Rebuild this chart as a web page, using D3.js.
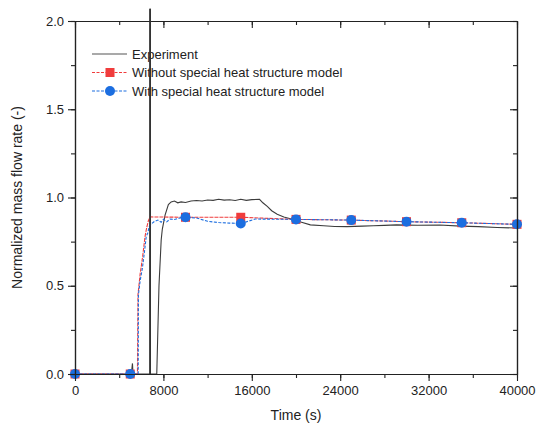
<!DOCTYPE html>
<html>
<head>
<meta charset="utf-8">
<script src="https://cdn.jsdelivr.net/npm/d3@7/dist/d3.min.js"></script>
<style>
  body { margin: 0; background: #fff; }
  svg { font-family: "Liberation Sans", Arial, sans-serif; }
</style>
</head>
<body>
<div class="chart"></div>
<script>
// time (s), normalized flow rate
const experiment = [
  [0, 0], [5100, 0], [5200, 0.06], [5250, 0], [7400, 0], [7600, 0.5], [7800, 0.76],
  [7900, 0.82], [8150, 0.9], [8450, 0.96], [8700, 0.975], [9000, 0.98], [9300, 0.97],
  [9600, 0.975], [10000, 0.972], [10500, 0.98], [11000, 0.983], [11500, 0.98],
  [12000, 0.986], [12500, 0.984], [13000, 0.99], [13500, 0.985], [14000, 0.987],
  [14500, 0.983], [15000, 0.99], [15500, 0.984], [16000, 0.988], [16700, 0.99],
  [17000, 0.97], [17400, 0.95], [17800, 0.925], [18300, 0.905], [18900, 0.89],
  [19500, 0.88], [20500, 0.86], [21300, 0.845], [22500, 0.84], [23500, 0.836],
  [24600, 0.835], [26000, 0.838], [27000, 0.84], [28000, 0.842], [29100, 0.845],
  [31000, 0.843], [33000, 0.844], [34900, 0.838], [36500, 0.835], [38200, 0.83],
  [40000, 0.827]
];
const withoutModel = [
  [0, 0], [5000, 0], [5650, 0], [5700, 0.45], [5900, 0.57], [6000, 0.61], [6150, 0.68],
  [6340, 0.78], [6490, 0.83], [6650, 0.87], [6800, 0.89], [10000, 0.888],
  [15000, 0.888], [20000, 0.876], [25000, 0.872], [30000, 0.863], [35000, 0.857],
  [40000, 0.848]
];
const withModel = [
  [0, 0], [5000, 0], [5720, 0], [5740, 0.45], [5900, 0.53], [6100, 0.6], [6300, 0.7],
  [6450, 0.78], [6600, 0.8], [6700, 0.835], [6900, 0.85], [7200, 0.865], [7500, 0.872],
  [7800, 0.86], [8000, 0.876], [8300, 0.862], [8600, 0.878], [9000, 0.875],
  [9500, 0.884], [10000, 0.888], [11000, 0.884], [12000, 0.865], [13000, 0.858],
  [14000, 0.855], [15000, 0.853], [15500, 0.862], [16300, 0.878], [20000, 0.876],
  [25000, 0.872], [30000, 0.863], [35000, 0.857], [40000, 0.848]
];
const markerTimes = [0, 5000, 10000, 15000, 20000, 25000, 30000, 35000, 40000];
const withoutMarkers = [0, 0, 0.888, 0.888, 0.876, 0.872, 0.863, 0.857, 0.848];
const withMarkers = [0, 0, 0.888, 0.853, 0.876, 0.872, 0.863, 0.857, 0.848];
const eventLine = [[6800, 0], [6800, 2.07]];
const xTicks = [0, 8000, 16000, 24000, 32000, 40000];
const yTicks = [0, 0.5, 1.0, 1.5, 2.0];
const legendLabels = ["Experiment", "Without special heat structure model", "With special heat structure model"];

const width = 539, height = 425;
const margin = { left: 75, right: 22, top: 21, bottom: 51 };

const svg = d3.select('.chart').append('svg')
  .attr('width', width).attr('height', height);

const x = d3.scaleLinear().domain([0, 40000]).range([margin.left, width - margin.right]);
const y = d3.scaleLinear().domain([0, 2]).range([height - margin.bottom, margin.top]);

const red = '#f03c3c', blue = '#1c6ee0', gray = '#3c3c3c';

const line = d3.line().x(d => x(d[0])).y(d => y(d[1]));

// event marker line (goes above the frame)
svg.append('path').datum(eventLine)
  .attr('d', line).attr('fill', 'none')
  .attr('stroke', '#333').attr('stroke-width', 1.6);

svg.append('path').datum(experiment)
  .attr('d', line).attr('fill', 'none')
  .attr('stroke', gray).attr('stroke-width', 1.1);

svg.append('path').datum(withoutModel)
  .attr('d', line).attr('fill', 'none')
  .attr('stroke', red).attr('stroke-width', 1.1)
  .attr('stroke-dasharray', '4,1');

svg.append('path').datum(withModel)
  .attr('d', line).attr('fill', 'none')
  .attr('stroke', blue).attr('stroke-width', 1.1)
  .attr('stroke-dasharray', '3,1.5');

// markers
svg.append('g').selectAll('rect')
  .data(markerTimes.map((t, i) => [t, withoutMarkers[i]]))
  .enter().append('rect')
  .attr('x', d => x(d[0]) - 4.5).attr('y', d => y(d[1]) - 4.5)
  .attr('width', 9).attr('height', 9)
  .attr('fill', red);

svg.append('g').selectAll('circle')
  .data(markerTimes.map((t, i) => [t, withMarkers[i]]))
  .enter().append('circle')
  .attr('cx', d => x(d[0])).attr('cy', d => y(d[1]))
  .attr('r', 5)
  .attr('fill', blue);

// axes
const yb = height - margin.bottom;
const xMinor = d3.range(0, 40001, 4000);
const yMinor = d3.range(0, 2.001, 0.25);

function styleAxis(g) {
  g.selectAll('.domain').attr('stroke', '#222').attr('stroke-width', 1.2);
  g.selectAll('.tick line').attr('stroke', '#222').attr('stroke-width', 1.1);
  g.selectAll('text').attr('font-size', 13).attr('fill', '#222')
    .attr('font-family', '"Liberation Sans", Arial, sans-serif');
}

svg.append('g').attr('transform', `translate(0,${yb})`)
  .call(d3.axisBottom(x).tickValues(xMinor).tickSize(4).tickFormat('').tickSizeOuter(0)).call(styleAxis);
svg.append('g').attr('transform', `translate(0,${yb})`)
  .call(d3.axisBottom(x).tickValues(xTicks).tickSize(7).tickPadding(5).tickFormat(d3.format('d')).tickSizeOuter(0))
  .call(styleAxis);

svg.append('g').attr('transform', `translate(0,${margin.top})`)
  .call(d3.axisTop(x).tickValues(xMinor).tickSize(-4).tickFormat('').tickSizeOuter(0)).call(styleAxis);
svg.append('g').attr('transform', `translate(0,${margin.top})`)
  .call(d3.axisTop(x).tickValues(xTicks).tickSize(-7).tickFormat('').tickSizeOuter(0)).call(styleAxis);

svg.append('g').attr('transform', `translate(${margin.left},0)`)
  .call(d3.axisLeft(y).tickValues(yMinor).tickSize(4).tickFormat('').tickSizeOuter(0)).call(styleAxis);
svg.append('g').attr('transform', `translate(${margin.left},0)`)
  .call(d3.axisLeft(y).tickValues(yTicks).tickSize(7).tickPadding(4).tickFormat(d3.format('.1f')).tickSizeOuter(0))
  .call(styleAxis);

svg.append('g').attr('transform', `translate(${width - margin.right},0)`)
  .call(d3.axisRight(y).tickValues(yMinor).tickSize(-4).tickFormat('').tickSizeOuter(0)).call(styleAxis);
svg.append('g').attr('transform', `translate(${width - margin.right},0)`)
  .call(d3.axisRight(y).tickValues(yTicks).tickSize(-7).tickFormat('').tickSizeOuter(0)).call(styleAxis);

// axis titles
svg.append('text')
  .attr('x', (x.range()[0] + x.range()[1]) / 2).attr('y', 420)
  .attr('text-anchor', 'middle').attr('font-size', 14).attr('fill', '#222')
  .text('Time (s)');

svg.append('text')
  .attr('transform', `translate(22,${(y.range()[0] + y.range()[1]) / 2}) rotate(-90)`)
  .attr('text-anchor', 'middle').attr('font-size', 14).attr('fill', '#222')
  .text('Normalized mass flow rate (-)');

// legend
const legend = svg.append('g');
const rows = [54, 72.5, 91];
const legendStyles = [
  { color: '#555', dash: null, mark: null },
  { color: red, dash: '3,1.5', mark: 'rect' },
  { color: blue, dash: '3,1.5', mark: 'circle' }
];
legendLabels.forEach((label, i) => {
  const s = legendStyles[i];
  legend.append('line')
    .attr('x1', 92).attr('x2', 127).attr('y1', rows[i]).attr('y2', rows[i])
    .attr('stroke', s.color).attr('stroke-width', 1.1)
    .attr('stroke-dasharray', s.dash);
  if (s.mark === 'rect') {
    legend.append('rect').attr('x', 105.5).attr('y', rows[i] - 4.5)
      .attr('width', 9).attr('height', 9).attr('fill', s.color);
  } else if (s.mark === 'circle') {
    legend.append('circle').attr('cx', 110).attr('cy', rows[i]).attr('r', 5).attr('fill', s.color);
  }
  legend.append('text')
    .attr('x', 132).attr('y', rows[i] + 4.5)
    .attr('font-size', 13).attr('fill', '#222')
    .text(label);
});

// event line drawn over legend like the reference
svg.append('path').datum(eventLine)
  .attr('d', line).attr('fill', 'none')
  .attr('stroke', '#333').attr('stroke-width', 1.6);
</script>
</body>
</html>
